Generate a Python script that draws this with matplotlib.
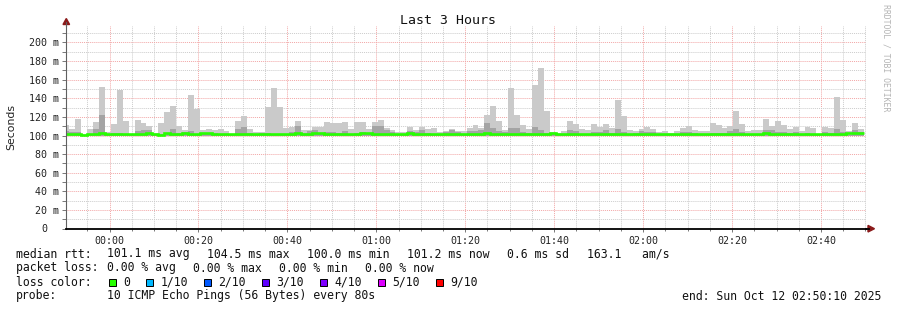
import numpy as np
import matplotlib
matplotlib.use("Agg")
import matplotlib.pyplot as plt
from matplotlib.patches import Rectangle, Polygon
from matplotlib.lines import Line2D

W, H = 897, 310
MONO = "DejaVu Sans Mono"

# ---------------- data ----------------
STEP_MIN = 80 / 60          # one probe round every 80 s
FIRST_EDGE = 0.8            # min after 23:50:10 where the first full step starts
PING_MIN = 100.0            # lowest ping, bottom of the smoke (ms)

# fastest..slowest ping spread per step (ms)
ping_max = [111, 107, 118, 102, 107, 115, 152, 104, 112, 148.5,
            116, 101, 117, 113, 110, 103, 113, 125.5, 132, 110,
            106, 143, 128, 106, 107, 106, 107, 105, 102, 115.5,
            121, 107.5, 103.5, 103.5, 131, 151, 131, 108.5, 109, 115.5,
            106, 106, 109, 109, 114, 113, 113.7, 114, 107, 114.5,
            114, 107.5, 114, 117, 108, 106, 104, 103.5, 109, 106,
            109, 107, 108.5, 103.5, 105, 107, 105, 104.5, 108, 111.8,
            108, 121.6, 131.3, 116, 105.4, 150.7, 122, 111, 107.5, 154,
            172, 126, 104, 103, 105, 115.5, 112, 107.5, 106, 112,
            109, 112.6, 108, 137.7, 121, 106, 105, 107.5, 109.5, 107.5,
            104, 105, 103, 105, 108.5, 110.7, 106, 105, 105, 113,
            111.8, 108, 110.7, 126, 112, 105, 106, 106, 118, 110.7,
            116, 111, 107, 109, 104.5, 109.5, 108, 102, 109, 108,
            141, 117, 104.5, 113, 107]
# second slowest ping band
ping_mid = [105, 104, 104, 101, 102, 107, 122, 102, 103, 103,
            102, 101, 105, 106, 106, 102, 102, 103, 107, 103,
            104, 105, 102, 102, 102, 103, 102, 101, 101, 107,
            109, 103, 102, 103, 103, 102, 102, 102, 104, 110,
            103, 105, 106, 103, 104, 104, 103, 105, 102, 103,
            104, 103, 110, 110, 106, 104, 102, 102, 105, 104,
            106, 103, 102, 102, 104, 106, 104, 102, 105, 105,
            106, 113, 108, 105, 104, 108, 108, 104, 103, 109,
            106, 103, 102, 102, 102, 106, 105, 102, 102, 104,
            104, 106, 103, 107, 104, 102, 103, 105, 104, 104,
            102, 102, 102, 102, 104, 104, 103, 102, 102, 103,
            103, 103, 105, 107, 104, 102, 102, 102, 106, 106,
            104, 104, 103, 104, 102, 103, 102, 101, 104, 103,
            107, 104, 101, 106, 104]
# median rtt per step
median = [101.4, 101.4, 101.4, 101.0, 101.4, 101.4, 102.6, 101.4, 101.4, 101.4,
          101.4, 101.4, 101.4, 101.4, 102.5, 101.4, 100.8, 102.5, 102.0, 101.4,
          102.2, 101.4, 101.4, 102.2, 102.4, 101.4, 101.4, 101.4, 101.4, 101.4,
          101.4, 101.4, 101.4, 101.4, 101.4, 101.4, 101.4, 101.4, 102.0, 102.5,
          101.4, 101.4, 102.4, 102.4, 101.4, 101.4, 101.4, 101.4, 101.4, 101.4,
          102.4, 102.4, 101.4, 101.4, 101.4, 101.4, 101.4, 101.4, 102.5, 101.4,
          101.4, 101.4, 101.4, 101.4, 101.4, 101.4, 101.4, 101.4, 101.4, 101.4,
          101.4, 102.5, 101.4, 101.4, 101.4, 101.4, 101.4, 101.4, 101.4, 101.4,
          101.4, 101.4, 102.3, 101.4, 101.4, 101.4, 101.4, 101.4, 101.4, 101.4,
          101.4, 101.4, 101.4, 101.4, 101.4, 101.4, 101.4, 101.4, 101.4, 101.4,
          101.4, 101.4, 101.4, 101.4, 101.4, 101.4, 101.4, 101.4, 101.4, 101.4,
          101.4, 101.4, 102.1, 101.4, 101.4, 101.4, 101.4, 101.4, 102.3, 101.4,
          101.4, 101.4, 101.4, 101.4, 101.4, 101.4, 101.4, 101.4, 101.4, 101.4,
          101.4, 101.4, 102.3, 103.0, 103.0]

tick_labels = ["00:00", "00:20", "00:40", "01:00", "01:20", "01:40", "02:00", "02:20", "02:40"]
FIRST_TICK = 9 + 50 / 60    # 00:00 is 9m50s after 23:50:10

loss_names = ["0", "1/10", "2/10", "3/10", "4/10", "5/10", "9/10"]
loss_colors = ["#26ff00", "#00b8ff", "#0059ff", "#5e00ff", "#7e00ff", "#dd00ff", "#ff0000"]

assert len(ping_max) == len(ping_mid) == len(median) == 135

# ---------------- figure ----------------
L, R, T, B = 65.8, 866.2, 26.0, 228.7


def fx(px):
    return px / W


def fy(py):
    return 1 - py / H


fig = plt.figure(figsize=(W / 100, H / 100), dpi=100)
ax = fig.add_axes([fx(L), fy(B), (R - L) / W, (B - T) / H])

n = len(ping_max)
edges = np.concatenate([[0.0], FIRST_EDGE + STEP_MIN * np.arange(n)])

ax.stairs(ping_max, edges, baseline=PING_MIN, fill=True, color="#cacaca", lw=0, zorder=1)
ax.stairs(ping_mid, edges, baseline=PING_MIN, fill=True, color="#a4a4a4", lw=0, zorder=1.1)
ax.stairs(median, edges, baseline=None, color=loss_colors[0], lw=1.9, zorder=4)

ax.set_xlim(0, 180)
ax.set_ylim(0, 217.5)

maj_x = FIRST_TICK + 20 * np.arange(len(tick_labels))
min_x = np.arange(FIRST_TICK - 5, 180, 5)
ax.set_xticks(maj_x, tick_labels)
ax.set_xticks(min_x, minor=True)
ax.set_yticks(np.arange(0, 201, 20), [""] + [f"{v} m" for v in range(20, 201, 20)])
ax.set_yticks(np.arange(10, 217, 10), minor=True)
ax.text(-(L - 47) / (R - L), 0, "0", transform=ax.get_yaxis_transform(),
        ha="right", va="center", family=MONO, fontsize=7.2, color="#222222")

# grid sits under the smoke, as in rrdtool
ax.set_axisbelow(True)
dots = (0, (1, 1))
ax.grid(which="minor", color="#cccccc", linestyle=dots, lw=0.7)
ax.grid(which="major", color="#f2a6a6", linestyle=dots, lw=0.7)

ax.tick_params(axis="both", which="both", direction="out", color="#777777",
               labelsize=7.2, labelcolor="#222222")
ax.tick_params(axis="y", which="both", length=3, width=0.7, pad=2.2)
ax.tick_params(axis="x", which="major", length=2.5, width=0.7, pad=2.5)
ax.tick_params(axis="x", which="minor", length=1.5, width=0.7)
for lab in ax.get_xticklabels() + ax.get_yticklabels():
    lab.set_family(MONO)

for s in ["top", "right"]:
    ax.spines[s].set_visible(False)
ax.spines["left"].set_color("#606060")
ax.spines["left"].set_linewidth(0.8)
ax.spines["bottom"].set_color("#000000")
ax.spines["bottom"].set_linewidth(1.3)
ax.spines["left"].set_zorder(5)
ax.spines["bottom"].set_zorder(5)

# axis extensions and arrows
fig.add_artist(Line2D([fx(L + 0.5), fx(L + 0.5)], [fy(T), fy(22)], color="#606060", lw=0.8,
                      transform=fig.transFigure))
fig.add_artist(Line2D([fx(R), fx(869)], [fy(B), fy(B)], color="#000000", lw=1.3,
                      transform=fig.transFigure))
ARROW = "#8b1a1a"
fig.add_artist(Polygon([(fx(L - 2.8), fy(24.5)), (fx(L + 3.8), fy(24.5)), (fx(L + 0.5), fy(18.5))],
                       closed=True, color=ARROW, transform=fig.transFigure))
fig.add_artist(Polygon([(fx(868), fy(B - 3.3)), (fx(868), fy(B + 3.3)), (fx(874.5), fy(B))],
                       closed=True, color=ARROW, transform=fig.transFigure))

# titles
fig.text(fx(448), fy(20), "Last 3 Hours", ha="center", va="center", family=MONO,
         fontsize=9.5, color="#111111")
fig.text(fx(11), fy(127), "Seconds", ha="center", va="center", rotation=90,
         family="DejaVu Sans", fontsize=7.8, color="#222222")
fig.text(fx(886), fy(4), "RRDTOOL / TOBI OETIKER", ha="center", va="top", rotation=-90,
         family=MONO, fontsize=5.9, color="#b4b4b4")

# legend block
LEG = dict(family=MONO, fontsize=8.3, color="#111111", va="center")
fig.text(fx(16), fy(254), "median rtt:", **LEG)
for x, s in zip([107, 207, 307, 407, 507, 587],
                ["101.1 ms avg", "104.5 ms max", "100.0 ms min", "101.2 ms now", "0.6 ms sd",
                 "163.1   am/s"]):
    fig.text(fx(x), fy(254), s, **LEG)

fig.text(fx(16), fy(268), "packet loss:", **LEG)
for x, s in zip([107, 193, 279, 365], ["0.00 % avg", "0.00 % max", "0.00 % min", "0.00 % now"]):
    fig.text(fx(x), fy(268), s, **LEG)

fig.text(fx(16), fy(282), "loss color:", **LEG)
box_x = [108.5, 146, 203.5, 261.5, 319.5, 377.5, 435.5]
for bx, name, col in zip(box_x, loss_names, loss_colors):
    fig.add_artist(Rectangle((fx(bx), fy(285.5)), 7 / W, 7 / H, facecolor=col,
                             edgecolor="#000000", lw=0.7, transform=fig.transFigure))
    fig.text(fx(bx + 14.5), fy(282), name, **LEG)

fig.text(fx(16), fy(296), "probe:", **LEG)
fig.text(fx(107), fy(296), "10 ICMP Echo Pings (56 Bytes) every 80s", **LEG)
fig.text(fx(881), fy(296), "end: Sun Oct 12 02:50:10 2025", ha="right", **LEG)

fig.savefig("out.png", dpi=100, facecolor="white")
